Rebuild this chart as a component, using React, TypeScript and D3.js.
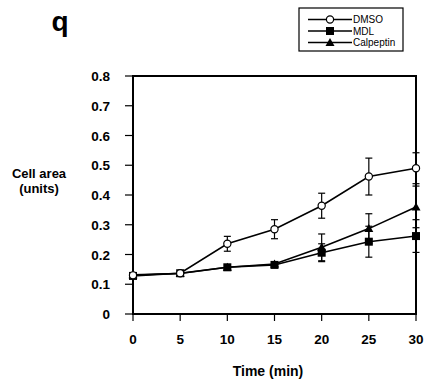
import React from 'react';
import * as d3 from 'd3';

const times = [0, 5, 10, 15, 20, 25, 30];
const dmso = [0.13, 0.137, 0.236, 0.285, 0.364, 0.462, 0.49];
const dmsoErr = [0.01, 0.008, 0.025, 0.032, 0.042, 0.062, 0.052];
const mdl = [0.128, 0.137, 0.157, 0.165, 0.206, 0.243, 0.262];
const mdlErr = [0.008, 0.006, 0.008, 0.008, 0.03, 0.052, 0.055];
const calpeptin = [0.132, 0.136, 0.157, 0.168, 0.224, 0.287, 0.36];
const calpErr = [0.008, 0.006, 0.008, 0.008, 0.045, 0.05, 0.07];
const yTicks = [0, 0.1, 0.2, 0.3, 0.4, 0.5, 0.6, 0.7, 0.8];
const legendNames = ['DMSO', 'MDL', 'Calpeptin'];

const W = 425;
const H = 381;
const font = 'Liberation Sans, Arial, sans-serif';

const x = d3.scaleLinear().domain([0, 30]).range([133, 416]);
const y = d3.scaleLinear().domain([0, 0.8]).range([314, 76]);

const line = d3
  .line<number>()
  .x((_, i) => x(times[i]))
  .y((d) => y(d));

function Marker({ kind, cx, cy }: { kind: string; cx: number; cy: number }) {
  if (kind === 'DMSO') {
    return <circle cx={cx} cy={cy} r={3.6} fill="#fff" stroke="#000" strokeWidth={1.2} />;
  }
  if (kind === 'MDL') {
    return <rect x={cx - 4} y={cy - 4} width={8} height={8} fill="#000" />;
  }
  return <path d={`M${cx},${cy - 4.5}L${cx + 4.5},${cy + 3.5}L${cx - 4.5},${cy + 3.5}Z`} fill="#000" />;
}

export default function App() {
  const series = [
    { name: 'MDL', values: mdl, err: mdlErr },
    { name: 'Calpeptin', values: calpeptin, err: calpErr },
    { name: 'DMSO', values: dmso, err: dmsoErr },
  ];
  return (
    <svg
      width={W}
      height={H}
      style={{ position: 'absolute', left: 0, top: 0, background: '#fff' }}
      fontFamily={font}
    >
      <rect width={W} height={H} fill="#fff" />
      <text x={60} y={31} fontSize={28} fontWeight="bold" textAnchor="middle">
        q
      </text>

      {/* frame */}
      <rect x={x(0)} y={y(0.8)} width={x(30) - x(0)} height={y(0) - y(0.8)} fill="none" stroke="#000" strokeWidth={2} />

      {/* y ticks */}
      {yTicks.map((t) => (
        <g key={t}>
          <line x1={x(0) - 8} x2={x(0)} y1={y(t)} y2={y(t)} stroke="#000" strokeWidth={1.2} />
          <text x={110} y={y(t) + 5} fontSize={13.5} fontWeight="bold" textAnchor="end">
            {t === 0 ? '0' : t.toFixed(1)}
          </text>
        </g>
      ))}

      {/* x ticks */}
      {times.map((t) => (
        <g key={t}>
          <line x1={x(t)} x2={x(t)} y1={y(0)} y2={y(0) + 7} stroke="#000" strokeWidth={1.2} />
          <text x={x(t)} y={344} fontSize={13.5} fontWeight="bold" textAnchor="middle">
            {t}
          </text>
        </g>
      ))}

      <text x={39} y={178} fontSize={13} fontWeight="bold" textAnchor="middle">
        Cell area
      </text>
      <text x={39} y={193} fontSize={13} fontWeight="bold" textAnchor="middle">
        (units)
      </text>
      <text x={268} y={376} fontSize={14} fontWeight="bold" textAnchor="middle">
        Time (min)
      </text>

      {/* series */}
      {series.map((s) => (
        <g key={s.name}>
          <path d={line(s.values) || ''} fill="none" stroke="#000" strokeWidth={1.6} />
          {s.values.map((v, i) =>
            s.err[i] > 0.015 ? (
              <g key={i} stroke="#000" strokeWidth={1.2}>
                <line x1={x(times[i])} x2={x(times[i])} y1={y(v - s.err[i])} y2={y(v + s.err[i])} />
                <line x1={x(times[i]) - 3.5} x2={x(times[i]) + 3.5} y1={y(v - s.err[i])} y2={y(v - s.err[i])} />
                <line x1={x(times[i]) - 3.5} x2={x(times[i]) + 3.5} y1={y(v + s.err[i])} y2={y(v + s.err[i])} />
              </g>
            ) : null
          )}
          {s.values.map((v, i) => (
            <Marker key={i} kind={s.name} cx={x(times[i])} cy={y(v)} />
          ))}
        </g>
      ))}

      {/* legend */}
      <rect x={299} y={8} width={104} height={43} fill="#fff" stroke="#000" strokeWidth={1.2} />
      {legendNames.map((n, i) => {
        const ly = 19.5 + i * 11.5;
        return (
          <g key={n}>
            <line x1={308} x2={352} y1={ly} y2={ly} stroke="#000" strokeWidth={1.3} />
            <Marker kind={n} cx={330} cy={ly} />
            <text x={353} y={ly + 3.6} fontSize={10}>
              {n}
            </text>
          </g>
        );
      })}
    </svg>
  );
}
